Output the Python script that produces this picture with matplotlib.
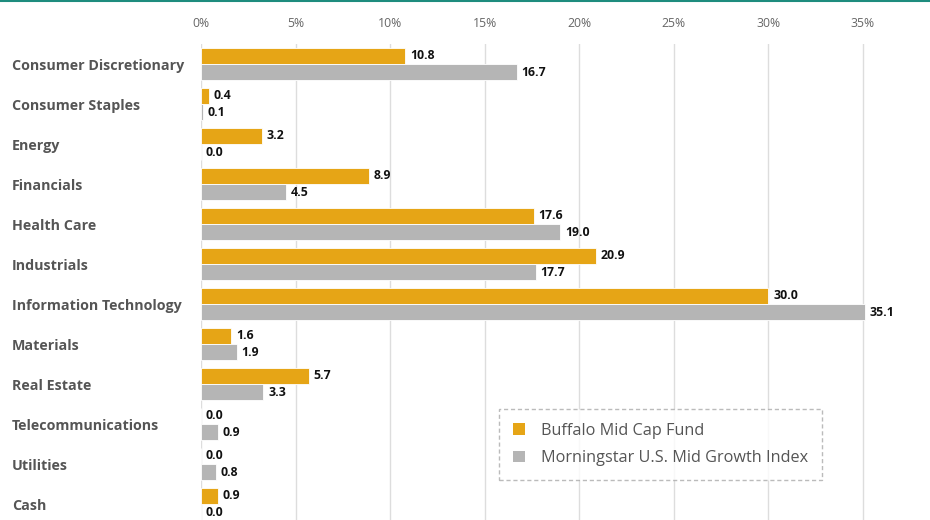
import matplotlib
matplotlib.use("Agg")
import matplotlib.pyplot as plt
from matplotlib.lines import Line2D
from matplotlib.patches import Patch
import numpy as np

plt.rcParams['font.family'] = ['Open Sans', 'DejaVu Sans']

# dados do gráfico
sectors = ['Consumer Discretionary', 'Consumer Staples', 'Energy', 'Financials',
           'Health Care', 'Industrials', 'Information Technology', 'Materials',
           'Real Estate', 'Telecommunications', 'Utilities', 'Cash']
fund = [10.8, 0.4, 3.2, 8.9, 17.6, 20.9, 30.0, 1.6, 5.7, 0.0, 0.0, 0.9]
index = [16.7, 0.1, 0.0, 4.5, 19.0, 17.7, 35.1, 1.9, 3.3, 0.9, 0.8, 0.0]
xticks = [0, 5, 10, 15, 20, 25, 30, 35]
series_names = ['Buffalo Mid Cap Fund', 'Morningstar U.S. Mid Growth Index']

orange = '#E6A516'
grey = '#B5B5B5'

fig = plt.figure(figsize=(9.3, 5.2), dpi=100)
ax = fig.add_axes([201 / 930, 0, 1 - 201 / 930, (520 - 44) / 520])

y = np.arange(len(sectors))
h = 0.4
ax.barh(y - h / 2, fund, height=h, color=orange, edgecolor='white', linewidth=0.6, zorder=3)
ax.barh(y + h / 2, index, height=h, color=grey, edgecolor='white', linewidth=0.6, zorder=3)

# rótulos de valor
for i in range(len(sectors)):
    ax.text(fund[i] + 0.25, y[i] - h / 2 - 0.02, f'{fund[i]:.1f}', va='center', ha='left',
            fontsize=8.8, fontweight='bold', color='#111111', zorder=4)
    ax.text(index[i] + 0.25, y[i] + h / 2 + 0.02, f'{index[i]:.1f}', va='center', ha='left',
            fontsize=8.8, fontweight='bold', color='#111111', zorder=4)

ax.set_xlim(0, (930 - 201) / 18.91)
ax.set_ylim(11.4, -0.5)
ax.set_xticks(xticks)
ax.set_xticklabels([f'{t}%' for t in xticks], fontsize=8.8, color='#666666')
ax.xaxis.tick_top()
ax.tick_params(axis='x', length=0, pad=10)
ax.set_yticks(y)
ax.set_yticklabels(sectors, fontsize=10.3, fontweight='bold', color='#555555')
ax.tick_params(axis='y', length=0, pad=0)
for lbl in ax.get_yticklabels():
    lbl.set_horizontalalignment('left')
    lbl.set_x(-189 / 729)
ax.grid(axis='x', color='#DDDDDD', linewidth=1, zorder=0)
for s in ax.spines.values():
    s.set_visible(False)

handles = [Patch(facecolor=orange, edgecolor='none'), Patch(facecolor=grey, edgecolor='none')]
leg = ax.legend(handles, series_names, loc='upper left', bbox_to_anchor=((499 - 201) / 729, (520 - 409) / 476),
                fontsize=11.7, frameon=True, fancybox=False, handlelength=0.75, handleheight=0.75,
                borderpad=0.85, labelspacing=0.7, handletextpad=1.0, borderaxespad=0)
leg.get_frame().set_edgecolor('#AAAAAA')
leg.get_frame().set_linestyle((0, (3, 2)))
leg.get_frame().set_linewidth(1)
for t in leg.get_texts():
    t.set_color('#555555')

# linha verde no topo
fig.add_artist(Line2D([0, 1], [0.998, 0.998], color='#1E8C7E', linewidth=1.5, transform=fig.transFigure))

plt.savefig('out.png', dpi=100)
